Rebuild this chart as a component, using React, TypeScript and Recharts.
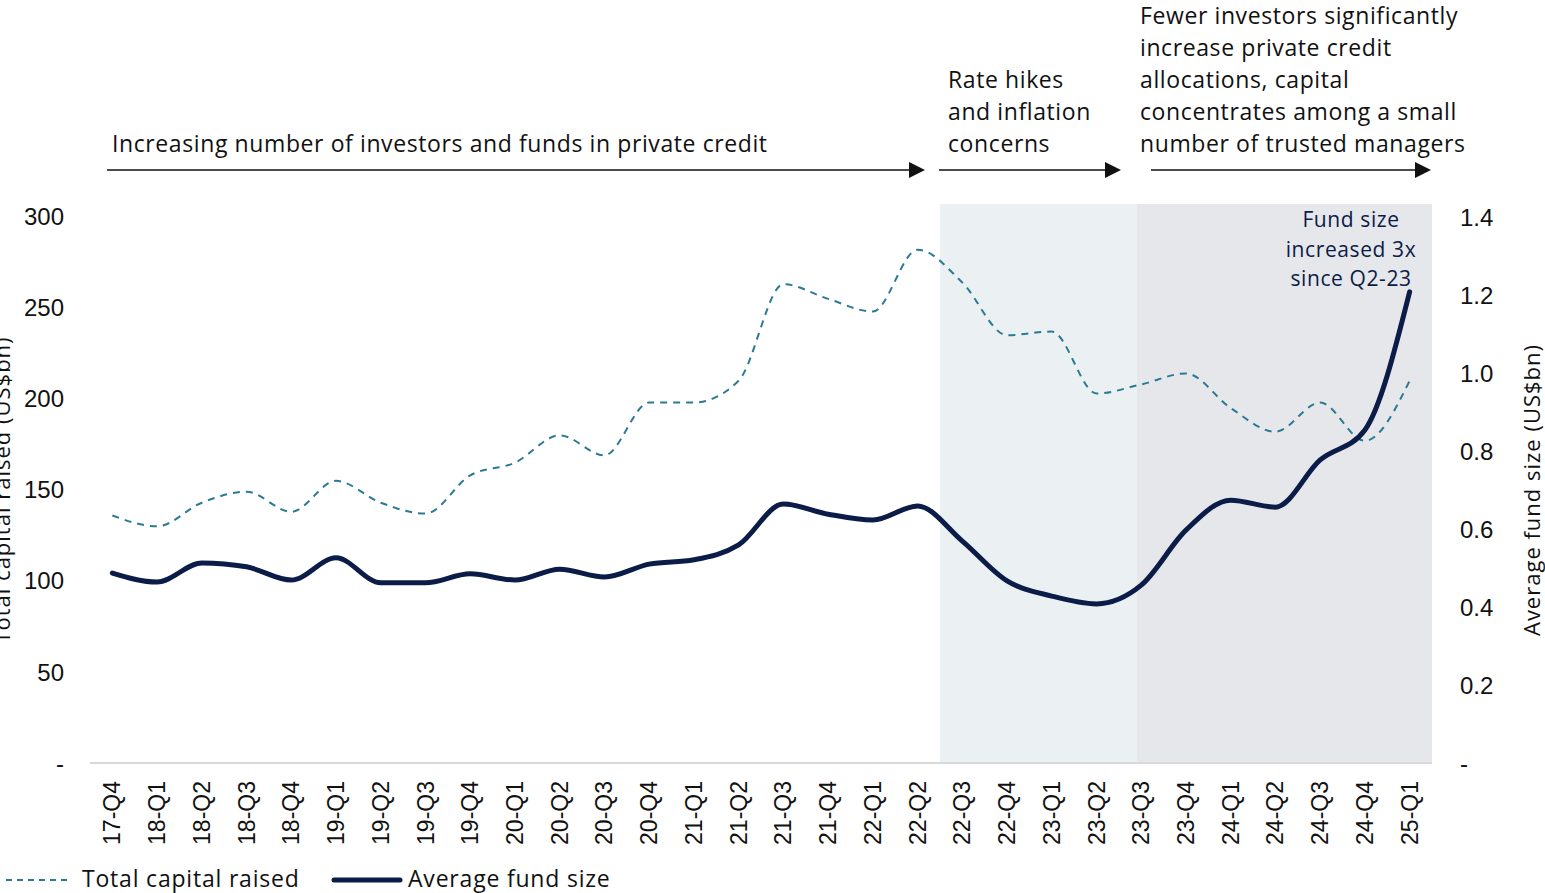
import React from "react";
import {
  LineChart,
  Line,
  XAxis,
  YAxis,
  ReferenceArea,
  Legend,
} from "recharts";

const quarters = [
  "17-Q4",
  "18-Q1", "18-Q2", "18-Q3", "18-Q4",
  "19-Q1", "19-Q2", "19-Q3", "19-Q4",
  "20-Q1", "20-Q2", "20-Q3", "20-Q4",
  "21-Q1", "21-Q2", "21-Q3", "21-Q4",
  "22-Q1", "22-Q2", "22-Q3", "22-Q4",
  "23-Q1", "23-Q2", "23-Q3", "23-Q4",
  "24-Q1", "24-Q2", "24-Q3", "24-Q4",
  "25-Q1",
];

// total capital raised, US$bn (left axis)
const totalCapital = [
  136, 130, 143, 149, 138, 155, 143, 137, 158, 165, 180, 169, 198, 198, 210,
  263, 255, 248, 282, 264, 235, 237, 203, 208, 214, 195, 182, 198, 177, 210,
];

// average fund size, US$bn (right axis)
const avgFundSize = [
  0.487, 0.464, 0.513, 0.503, 0.469, 0.526, 0.462, 0.462, 0.485, 0.469, 0.497,
  0.477, 0.51, 0.521, 0.559, 0.664, 0.638, 0.623, 0.659, 0.569, 0.467, 0.428,
  0.408, 0.456, 0.597, 0.674, 0.656, 0.777, 0.854, 1.208,
];

const leftTicks = [0, 50, 100, 150, 200, 250, 300];
const rightTicks = [0, 0.2, 0.4, 0.6, 0.8, 1.0, 1.2, 1.4];

// shaded periods, in quarter-index units
const ratePeriod = [18.5, 22.9];
const concentrationPeriod = [22.9, 29.5];

const rows = quarters.map((q, i) => ({
  idx: i,
  quarter: q,
  total: totalCapital[i],
  avg: avgFundSize[i],
}));

const TEAL = "#2B7A93";
const NAVY = "#0B1C48";
const AXIS_FONT = "'Liberation Sans', Arial, sans-serif";
const TEXT_FONT = "'Open Sans', Lato, sans-serif";

function QuarterTick(props: any) {
  const { x, y, payload } = props;
  return (
    <text
      x={x}
      y={y}
      transform={`rotate(-90, ${x}, ${y})`}
      textAnchor="end"
      dominantBaseline="central"
      fontSize={23}
      fontFamily={AXIS_FONT}
      fill="#111"
    >
      {quarters[payload.value]}
    </text>
  );
}

function ChartLegend() {
  return (
    <svg width={700} height={35} style={{ display: "block" }}>
      <line x1={6} x2={68} y1={22} y2={22} stroke={TEAL} strokeWidth={2} strokeDasharray="6 5" />
      <text x={82} y={29} fontSize={23} letterSpacing={0.8} fontFamily={TEXT_FONT} fill="#111">
        Total capital raised
      </text>
      <line x1={334} x2={400} y1={22} y2={22} stroke={NAVY} strokeWidth={5} strokeLinecap="round" />
      <text x={408} y={29} fontSize={23} letterSpacing={0.8} fontFamily={TEXT_FONT} fill="#111">
        Average fund size
      </text>
    </svg>
  );
}

function Arrow({ x1, x2, y }: { x1: number; x2: number; y: number }) {
  return (
    <g>
      <line x1={x1} x2={x2 - 14} y1={y} y2={y} stroke="#111" strokeWidth={1.5} />
      <polygon points={`${x2 - 16},${y - 8} ${x2},${y} ${x2 - 16},${y + 8}`} fill="#111" />
    </g>
  );
}

export default function App() {
  return (
    <div
      style={{
        position: "absolute",
        left: 0,
        top: 0,
        width: 1545,
        height: 893,
        background: "#fff",
        overflow: "hidden",
      }}
    >
      <LineChart
        width={1545}
        height={893}
        data={rows}
        margin={{ top: 204, right: 0, bottom: 5, left: 0 }}
      >
        <ReferenceArea
          yAxisId="left"
          x1={ratePeriod[0]}
          x2={ratePeriod[1]}
          fill="#EBF0F3"
          fillOpacity={1}
          stroke="none"
        />
        <ReferenceArea
          yAxisId="left"
          x1={concentrationPeriod[0]}
          x2={concentrationPeriod[1]}
          fill="#E6E7EB"
          fillOpacity={1}
          stroke="none"
        />
        <XAxis
          dataKey="idx"
          type="number"
          domain={[-0.5, 29.5]}
          ticks={quarters.map((_, i) => i)}
          interval={0}
          tick={<QuarterTick />}
          tickLine={false}
          tickSize={0}
          tickMargin={18}
          height={90}
          axisLine={{ stroke: "#D9D9D9", strokeWidth: 2 }}
        />
        <YAxis
          yAxisId="left"
          width={90}
          domain={[0, 307.1]}
          ticks={leftTicks}
          interval={0}
          tickFormatter={(v: number) => (v === 0 ? "-" : String(v))}
          axisLine={false}
          tickLine={false}
          tickSize={0}
          tickMargin={26}
          tick={{ fontSize: 24, fontFamily: AXIS_FONT, fill: "#111" }}
        />
        <YAxis
          yAxisId="right"
          orientation="right"
          width={113}
          domain={[0, 1.4333]}
          ticks={rightTicks}
          interval={0}
          tickFormatter={(v: number) => (v === 0 ? "-" : v.toFixed(1))}
          axisLine={false}
          tickLine={false}
          tickSize={0}
          tickMargin={28}
          tick={{ fontSize: 24, fontFamily: AXIS_FONT, fill: "#111" }}
        />
        <Line
          yAxisId="left"
          type="monotone"
          dataKey="total"
          stroke={TEAL}
          strokeWidth={2}
          strokeDasharray="7 6"
          dot={false}
          isAnimationActive={false}
          name="Total capital raised"
        />
        <Line
          yAxisId="right"
          type="monotone"
          dataKey="avg"
          stroke={NAVY}
          strokeWidth={5}
          strokeLinecap="round"
          dot={false}
          isAnimationActive={false}
          name="Average fund size"
        />
        <Legend
          content={<ChartLegend />}
          wrapperStyle={{ left: 0, top: 858, width: 700, height: 35 }}
        />
      </LineChart>

      <svg
        width={1545}
        height={893}
        style={{ position: "absolute", left: 0, top: 0, pointerEvents: "none" }}
        fontFamily={TEXT_FONT}
        fill="#111"
      >
        <text x={112} y={152} fontSize={23} letterSpacing={0.6}>
          Increasing number of investors and funds in private credit
        </text>
        <Arrow x1={107} x2={925} y={170} />

        <text fontSize={23} letterSpacing={0.6}>
          <tspan x={948} y={88}>Rate hikes</tspan>
          <tspan x={948} y={120}>and inflation</tspan>
          <tspan x={948} y={152}>concerns</tspan>
        </text>
        <Arrow x1={939} x2={1121} y={170} />

        <text fontSize={23} letterSpacing={0.6}>
          <tspan x={1140} y={24}>Fewer investors significantly</tspan>
          <tspan x={1140} y={56}>increase private credit</tspan>
          <tspan x={1140} y={88}>allocations, capital</tspan>
          <tspan x={1140} y={120}>concentrates among a small</tspan>
          <tspan x={1140} y={152}>number of trusted managers</tspan>
        </text>
        <Arrow x1={1151} x2={1431} y={170} />

        <text fontSize={21} letterSpacing={0.6} fill={NAVY} textAnchor="middle">
          <tspan x={1351} y={227}>Fund size</tspan>
          <tspan x={1351} y={257}>increased 3x</tspan>
          <tspan x={1351} y={286}>since Q2-23</tspan>
        </text>

        <text
          transform="translate(10, 490) rotate(-90)"
          textAnchor="middle"
          fontSize={22}
          letterSpacing={1}
        >
          Total capital raised (US$bn)
        </text>
        <text
          transform="translate(1540, 490) rotate(-90)"
          textAnchor="middle"
          fontSize={22}
          letterSpacing={1}
        >
          Average fund size (US$bn)
        </text>
      </svg>
    </div>
  );
}
